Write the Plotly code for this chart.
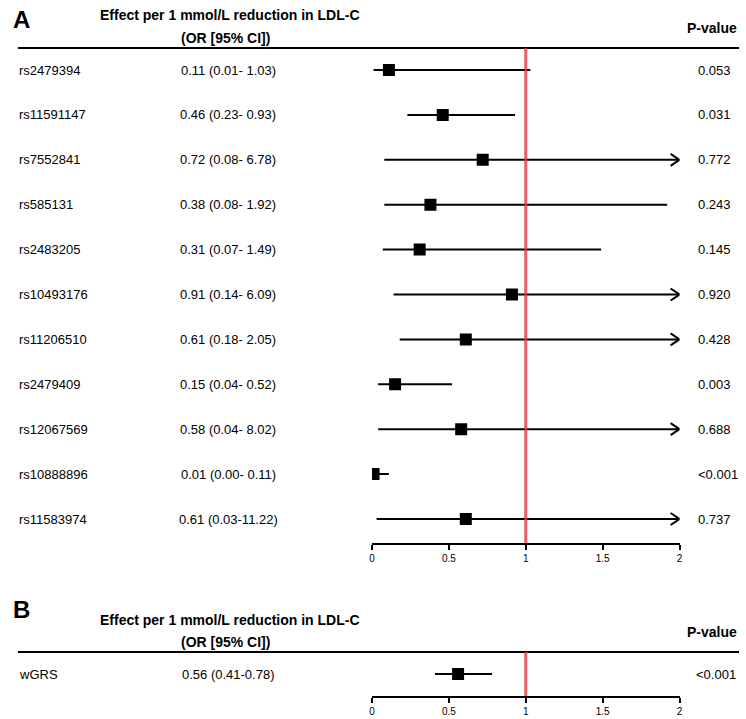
import plotly.graph_objects as go

W, H = 746, 719

# ---------------- data ----------------
snps = ["rs2479394", "rs11591147", "rs7552841", "rs585131", "rs2483205", "rs10493176",
        "rs11206510", "rs2479409", "rs12067569", "rs10888896", "rs11583974"]
or_vals = [0.11, 0.46, 0.72, 0.38, 0.31, 0.91, 0.61, 0.15, 0.58, 0.01, 0.61]
ci_low = [0.01, 0.23, 0.08, 0.08, 0.07, 0.14, 0.18, 0.04, 0.04, 0.00, 0.03]
ci_high = [1.03, 0.93, 6.78, 1.92, 1.49, 6.09, 2.05, 0.52, 8.02, 0.11, 11.22]
pvals = ["0.053", "0.031", "0.772", "0.243", "0.145", "0.920", "0.428", "0.003", "0.688", "<0.001", "0.737"]

grs_names = ["wGRS"]
grs_or = [0.56]
grs_low = [0.41]
grs_high = [0.78]
grs_labels = ["0.56 (0.41-0.78)"]
grs_pvals = ["<0.001"]

tick_vals = [0, 0.5, 1, 1.5, 2]
tick_text = ["0", "0.5", "1", "1.5", "2"]
header1 = "Effect per 1 mmol/L reduction in LDL-C"
header2 = "(OR [95% CI])"
header_p = "P-value"

XMAX = 2.0
FONT = "Liberation Sans, Arial, Helvetica, sans-serif"


def py(px):
    return 1 - px / H


def px_x(px):
    return px / W


ci_labels = [f"{o:.2f} ({l:.2f}-{h:5.2f})" for o, l, h in zip(or_vals, ci_low, ci_high)]

fig = go.Figure()

DX = 9 / 155
DY_A = 6 / 44.9


def add_forest(names, ors, lows, highs, xa, ya):
    rows = list(range(len(names)))
    lx, ly = [], []
    ax_, ay_ = [], []
    for i, lo, hi in zip(rows, lows, highs):
        lx += [lo, min(hi, XMAX), None]
        ly += [i, i, None]
        if hi > XMAX:
            ax_ += [XMAX - DX, XMAX, XMAX - DX, None]
            ay_ += [i - DY_A, i, i + DY_A, None]
    fig.add_trace(go.Scatter(x=lx, y=ly, mode="lines", line=dict(color="black", width=2),
                             xaxis=xa, yaxis=ya, hoverinfo="skip", showlegend=False))
    if ax_:
        fig.add_trace(go.Scatter(x=ax_, y=ay_, mode="lines", line=dict(color="black", width=2),
                                 xaxis=xa, yaxis=ya, hoverinfo="skip", showlegend=False))
    fig.add_trace(go.Scatter(x=ors, y=rows, mode="markers",
                             marker=dict(symbol="square", size=12, color="black"),
                             xaxis=xa, yaxis=ya, showlegend=False))


add_forest(snps, or_vals, ci_low, ci_high, "x", "y")
add_forest(grs_names, grs_or, grs_low, grs_high, "x2", "y2")

dom_x = [px_x(372), px_x(682)]
axis_common = dict(range=[0, 2], tickvals=tick_vals, ticktext=tick_text, showline=True,
                   linecolor="black", linewidth=2, ticks="outside", ticklen=5, tickwidth=2,
                   tickcolor="black", showgrid=False, zeroline=False,
                   tickfont=dict(size=10, color="black", family=FONT))

fig.update_layout(
    width=W, height=H,
    margin=dict(l=0, r=0, t=0, b=0),
    paper_bgcolor="white", plot_bgcolor="rgba(0,0,0,0)",
    showlegend=False,
    font=dict(family=FONT, color="black"),
    xaxis=dict(domain=dom_x, anchor="y", **axis_common),
    yaxis=dict(domain=[py(543), py(48)], range=[(543 - 70) / 44.9, (48 - 70) / 44.9],
               visible=False, fixedrange=True),
    xaxis2=dict(domain=dom_x, anchor="y2", **axis_common),
    yaxis2=dict(domain=[py(696), py(652)], range=[(696 - 674) / 44.9, (652 - 674) / 44.9],
                visible=False, fixedrange=True),
)

shapes = []
# header rules
for yy in (48, 652):
    shapes.append(dict(type="line", xref="paper", yref="paper", x0=px_x(15), x1=px_x(742),
                       y0=py(yy), y1=py(yy), line=dict(color="black", width=2)))
# reference lines at OR = 1
shapes.append(dict(type="line", xref="x", yref="paper", x0=1, x1=1, y0=py(48), y1=py(543),
                   line=dict(color="rgba(220,60,60,0.8)", width=3), layer="above"))
shapes.append(dict(type="line", xref="x2", yref="paper", x0=1, x1=1, y0=py(652), y1=py(696),
                   line=dict(color="rgba(220,60,60,0.8)", width=3), layer="above"))
fig.update_layout(shapes=shapes)

ann = []


def txt(text, x, y, yref="paper", xanchor="left", size=13, bold=False):
    t = f"<b>{text}</b>" if bold else text
    ann.append(dict(text=t, x=x, y=y, xref="paper", yref=yref, xanchor=xanchor,
                    yanchor="middle", showarrow=False,
                    font=dict(size=size, family=FONT, color="black")))


# Panel A
txt("A", px_x(8), py(19), size=24, bold=True)
txt(header1, px_x(229), py(15), xanchor="center", size=14, bold=True)
txt(header2, px_x(224), py(38), xanchor="center", size=14, bold=True)
txt(header_p, px_x(742), py(28), xanchor="right", size=14, bold=True)
for i, (n, lab, p) in enumerate(zip(snps, ci_labels, pvals)):
    txt(n, px_x(14), i, yref="y")
    txt(lab, px_x(227), i, yref="y", xanchor="center")
    txt(p, px_x(699), i, yref="y")

# Panel B
txt("B", px_x(8), py(609), size=24, bold=True)
txt(header1, px_x(229), py(620), xanchor="center", size=14, bold=True)
txt(header2, px_x(224), py(642), xanchor="center", size=14, bold=True)
txt(header_p, px_x(742), py(632), xanchor="right", size=14, bold=True)
for i, (n, lab, p) in enumerate(zip(grs_names, grs_labels, grs_pvals)):
    txt(n, px_x(14), i, yref="y2")
    txt(lab, px_x(227), i, yref="y2", xanchor="center")
    txt(p, px_x(697), i, yref="y2")

fig.update_layout(annotations=ann)

fig.write_html("out.html", config={"displayModeBar": False},
               post_script="document.body.style.margin='0';document.body.style.overflow='hidden';")
